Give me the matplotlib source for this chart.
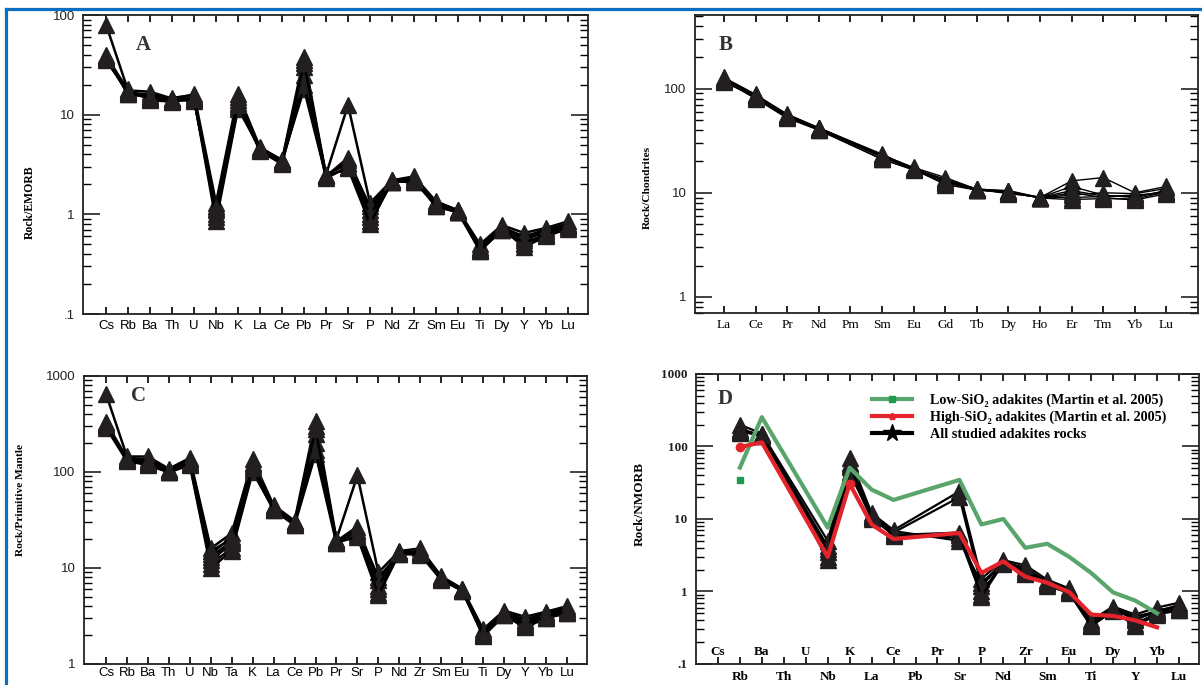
import numpy as np
import matplotlib.pyplot as plt
from matplotlib.lines import Line2D
from matplotlib.ticker import LogLocator, NullFormatter

SERIF = ['Liberation Serif', 'DejaVu Serif']
SANS = ['Liberation Sans', 'DejaVu Sans']
TRI = '#231f20'

# ---- panel A: Rock/EMORB (rows = elements, columns = samples)
a_elements = ['Cs', 'Rb', 'Ba', 'Th', 'U', 'Nb', 'K', 'La', 'Ce', 'Pb', 'Pr',
              'Sr', 'P', 'Nd', 'Zr', 'Sm', 'Eu', 'Ti', 'Dy', 'Y', 'Yb', 'Lu']
a_values = [
    [80, 40, 38, 36, 37, 39, 35],
    [17.5, 17, 16, 16.5, 18, 16, 17],
    [17, 14.5, 15, 16, 14, 15.5, 14.8],
    [14.5, 14, 13.8, 14.2, 13.5, 14.8, 14],
    [16, 14, 15, 13.8, 14.5, 15.5, 14.2],
    [1.3, 1.1, 0.95, 1.2, 0.85, 1.0, 1.15],
    [16, 14, 12, 13, 11.5, 15, 12.5],
    [4.7, 4.4, 4.5, 4.3, 4.6, 4.4, 4.5],
    [3.5, 3.3, 3.4, 3.2, 3.5, 3.3, 3.4],
    [38, 35, 30, 25, 18, 20, 33],
    [2.5, 2.4, 2.5, 2.3, 2.4, 2.5, 2.4],
    [12.5, 3.7, 3.2, 3.0, 3.5, 3.3, 2.9],
    [1.3, 1.1, 0.95, 0.85, 1.2, 1.0, 0.8],
    [2.2, 2.1, 2.15, 2.1, 2.2, 2.1, 2.15],
    [2.4, 2.2, 2.1, 2.3, 2.1, 2.2, 2.2],
    [1.35, 1.25, 1.3, 1.2, 1.3, 1.25, 1.2],
    [1.1, 1.05, 1.08, 1.05, 1.1, 1.06, 1.05],
    [0.5, 0.45, 0.43, 0.47, 0.44, 0.46, 0.43],
    [0.78, 0.72, 0.7, 0.75, 0.72, 0.74, 0.7],
    [0.65, 0.58, 0.5, 0.55, 0.47, 0.6, 0.52],
    [0.73, 0.65, 0.62, 0.68, 0.6, 0.7, 0.63],
    [0.85, 0.78, 0.75, 0.8, 0.72, 0.8, 0.74],
]

# ---- panel B: Rock/Chondrites (Pm not analysed)
b_elements = ['La', 'Ce', 'Pr', 'Nd', 'Pm', 'Sm', 'Eu', 'Gd', 'Tb', 'Dy',
              'Ho', 'Er', 'Tm', 'Yb', 'Lu']
nan = np.nan
b_values = [
    [128, 122, 118, 125, 120, 115, 124],
    [88, 85, 82, 86, 80, 84, 87],
    [56, 54, 53, 55, 52, 54, 57],
    [42, 41, 40, 42, 40, 41, 42],
    [nan] * 7,
    [23, 22, 21, 22.5, 21, 22, 23.5],
    [17.5, 17, 16.5, 17, 16.8, 17.2, 17],
    [14, 13, 12.5, 13.5, 12, 12.8, 13],
    [10.8, 10.7, 10.6, 10.8, 10.6, 10.7, 10.9],
    [10.5, 10, 10.2, 9.8, 10.4, 10, 10.3],
    [9.0, 9.0, 8.9, 9.1, 8.9, 9.0, 9.0],
    [13, 11.5, 10, 9, 8.6, 9.5, 10.5],
    [14, 9.5, 9, 9.2, 8.8, 10, 9.3],
    [10, 9, 8.5, 9.5, 8.7, 9.8, 9.2],
    [11.5, 10.5, 9.8, 10, 10.2, 11, 10.4],
]

# ---- panel C: Rock/Primitive Mantle
c_elements = ['Cs', 'Rb', 'Ba', 'Th', 'U', 'Nb', 'Ta', 'K', 'La', 'Ce', 'Pb',
              'Pr', 'Sr', 'P', 'Nd', 'Zr', 'Sm', 'Eu', 'Ti', 'Dy', 'Y', 'Yb', 'Lu']
c_values = [
    [650, 320, 300, 330, 290, 310, 305],
    [145, 135, 132, 140, 130, 138, 134],
    [145, 125, 120, 135, 118, 130, 128],
    [108, 102, 100, 105, 99, 104, 101],
    [140, 125, 120, 135, 118, 130, 122],
    [16, 13, 11, 14, 10, 12, 15],
    [23, 19, 16, 21, 15, 18, 20],
    [135, 120, 105, 125, 100, 115, 110],
    [45, 42, 40, 44, 41, 43, 40],
    [31, 29, 28, 30, 28, 29, 30],
    [340, 300, 250, 200, 155, 170, 280],
    [20, 19, 18, 19.5, 18, 19, 18.5],
    [92, 27, 23, 22, 25, 24, 21],
    [9, 7.5, 6, 5.5, 8, 6.5, 5.2],
    [15, 14.5, 14, 14.5, 14, 14.8, 14.2],
    [16, 14.5, 14, 15, 13.8, 14.5, 14.2],
    [8.2, 7.8, 7.6, 8, 7.5, 7.8, 7.7],
    [6.1, 5.9, 5.8, 6, 5.8, 5.9, 5.9],
    [2.3, 2.1, 2.0, 2.2, 1.95, 2.1, 2.0],
    [3.6, 3.3, 3.2, 3.4, 3.2, 3.5, 3.3],
    [3.1, 2.8, 2.5, 2.7, 2.4, 2.9, 2.6],
    [3.5, 3.2, 3.0, 3.3, 3.0, 3.4, 3.1],
    [4.0, 3.6, 3.4, 3.7, 3.4, 3.8, 3.5],
]

# ---- panel D: Rock/NMORB
d_elements = ['Cs', 'Rb', 'Ba', 'Th', 'U', 'Nb', 'K', 'La', 'Ce', 'Pb', 'Pr',
              'Sr', 'P', 'Nd', 'Zr', 'Sm', 'Eu', 'Ti', 'Dy', 'Y', 'Yb', 'Lu']
d_studied = [
    [nan] * 6,
    [200, 170, 160, 165, 155, 175],
    [150, 140, 145, 138, 150, 142],
    [nan] * 6,
    [nan] * 6,
    [5.0, 4.2, 3.5, 3.0, 2.7, 3.8],
    [70, 60, 52, 45, 42, 55],
    [12, 11, 10.5, 10, 11.5, 10.8],
    [7.0, 6.5, 6.0, 6.2, 6.8, 5.9],
    [nan] * 6,
    [nan] * 6,
    [24, 20, 6.5, 5.5, 5.0, 6.0],
    [1.5, 1.2, 1.0, 0.9, 1.3, 0.85],
    [2.7, 2.5, 2.4, 2.6, 2.5, 2.45],
    [2.3, 2.0, 1.8, 2.1, 1.9, 1.75],
    [1.45, 1.3, 1.25, 1.35, 1.2, 1.3],
    [1.1, 1.0, 0.97, 1.05, 0.95, 1.0],
    [0.4, 0.36, 0.34, 0.38, 0.33, 0.35],
    [0.62, 0.56, 0.53, 0.6, 0.55, 0.58],
    [0.48, 0.42, 0.36, 0.4, 0.33, 0.45],
    [0.6, 0.52, 0.5, 0.55, 0.48, 0.53],
    [0.7, 0.6, 0.56, 0.62, 0.55, 0.65],
]
d_low_sio2 = [nan, 51, 253, nan, nan, 7.6, 51, 25.4, 18.3, nan, nan, 34.6,
              8.4, 10.0, 4.0, 4.55, 3.0, 1.8, 0.97, 0.75, 0.5, nan]
d_low_sio2_rb_point = 35
d_high_sio2 = [nan, 98, 114, nan, nan, 3.0, 30.6, 8.4, 5.3, nan, nan, 6.4,
               1.8, 2.6, 1.6, 1.32, 0.98, 0.48, 0.46, 0.40, 0.32, nan]

fig = plt.figure(figsize=(12.02, 6.85), dpi=100)


def log_axes(rect, xlim, ylim, yticks, ylabels, tick_font):
    ax = fig.add_axes(rect)
    ax.set_yscale('log')
    ax.set_xlim(*xlim)
    ax.set_ylim(*ylim)
    ax.yaxis.set_minor_locator(LogLocator(base=10, subs=np.arange(2, 10)))
    ax.yaxis.set_minor_formatter(NullFormatter())
    ax.set_yticks(yticks, ylabels)
    for s in ax.spines.values():
        s.set_linewidth(1.3)
        s.set_color('#222222')
    ax.tick_params(axis='y', which='major', direction='in', length=12, width=1.2,
                   left=True, right=True, pad=6, colors='#222222')
    ax.tick_params(axis='y', which='minor', direction='in', length=6, width=1.0,
                   left=True, right=True)
    ax.tick_params(axis='x', which='major', direction='in', length=5, width=1.2,
                   top=True, bottom=True, pad=4)
    for lab in ax.get_yticklabels():
        lab.update(tick_font)
    return ax


def draw_samples(ax, values, lw):
    arr = np.array(values, dtype=float)
    x = np.arange(arr.shape[0])
    for s in arr.T:
        ok = ~np.isnan(s)
        ax.plot(x[ok], s[ok], color='black', lw=lw, marker='^', ms=11,
                mfc=TRI, mec=TRI, zorder=2)


sans9 = dict(family=SANS, size=9.5)
serif_b = dict(family=SERIF, size=9.5, weight='bold')

# A
axA = log_axes([0.0691, 0.5416, 0.4201, 0.4365], (-1.045, 21.91), (0.1, 100),
               [0.1, 1, 10, 100], ['.1', '1', '10', '100'], sans9)
draw_samples(axA, a_values, 1.8)
axA.set_xticks(range(len(a_elements)), a_elements, **sans9)
axA.text(0.119, 0.90, 'A', transform=axA.transAxes, ha='center', va='center',
         family=SERIF, weight='bold', size=15, color='#333333')
axA.text(-0.105, 0.375, 'Rock/EMORB', transform=axA.transAxes, rotation=90,
         ha='center', va='center', family=SERIF, weight='bold', size=8.5)

# B
axB = log_axes([0.5782, 0.5431, 0.4185, 0.4350], (-0.92, 15.0), (0.7, 510),
               [1, 10, 100], ['1', '10', '100'], sans9)
draw_samples(axB, b_values, 1.0)
axB.set_xticks(range(len(b_elements)), b_elements, family=SERIF, size=9.5)
axB.text(0.06, 0.90, 'B', transform=axB.transAxes, ha='center', va='center',
         family=SERIF, weight='bold', size=15, color='#333333')
axB.text(-0.095, 0.42, 'Rock/Chondrites', transform=axB.transAxes, rotation=90,
         ha='center', va='center', family=SERIF, weight='bold', size=8.2)

# C
axC = log_axes([0.0699, 0.0307, 0.4185, 0.4204], (-1.05, 22.96), (1, 1000),
               [1, 10, 100, 1000], ['1', '10', '100', '1000'], sans9)
draw_samples(axC, c_values, 1.8)
axC.set_xticks(range(len(c_elements)), c_elements, **sans9)
axC.tick_params(axis='x', pad=2)
axC.text(0.109, 0.93, 'C', transform=axC.transAxes, ha='center', va='center',
         family=SERIF, weight='bold', size=15, color='#333333')
axC.text(-0.127, 0.571, 'Rock/Primitive Mantle', transform=axC.transAxes,
         rotation=90, ha='center', va='center', family=SERIF, weight='bold', size=8.2)

# D
axD = log_axes([0.5790, 0.0307, 0.4185, 0.4234], (-1.0, 21.91), (0.1, 1000),
               [0.1, 1, 10, 100, 1000], ['.1', '1', '10', '100', '1000'], serif_b)
draw_samples(axD, d_studied, 1.6)
xd = np.arange(len(d_elements))
low = np.array(d_low_sio2, dtype=float)
high = np.array(d_high_sio2, dtype=float)
okl = ~np.isnan(low)
okh = ~np.isnan(high)
axD.plot(xd[okl], low[okl], color='#5aa56c', lw=3.0, zorder=4)
axD.plot([d_elements.index('Rb')], [d_low_sio2_rb_point], ls='none', marker='s',
         ms=5, color='#1f9a4e', zorder=4)
hx, hy = xd[okh], high[okh]
axD.plot(hx, hy, color='#e5232b', lw=3.0, zorder=5)
mark = [list(hx).index(d_elements.index('Rb')), list(hx).index(d_elements.index('K'))]
axD.plot(hx[mark], hy[mark], ls='none', marker='o', ms=6, color='#e5232b', zorder=5)
axD.set_xticks(xd, [''] * len(d_elements))
for i, name in enumerate(d_elements):
    y = 0.04 if i % 2 == 0 else -0.045
    axD.text(i, y, name, transform=axD.get_xaxis_transform(), ha='center',
             va='center', clip_on=False, **serif_b)
axD.text(0.058, 0.912, 'D', transform=axD.transAxes, ha='center', va='center',
         family=SERIF, weight='bold', size=15, color='#333333')
axD.text(-0.111, 0.552, 'Rock/NMORB', transform=axD.transAxes, rotation=90,
         ha='center', va='center', family=SERIF, weight='bold', size=9.5)
handles = [
    Line2D([], [], color='#5aa56c', lw=3.0, marker='s', ms=4, mfc='#1f9a4e', mec='#1f9a4e'),
    Line2D([], [], color='#e5232b', lw=3.0, marker='p', ms=5),
    Line2D([], [], color='black', lw=3.0, marker='*', ms=13),
]
labels = ['Low-SiO\u2082 adakites (Martin et al. 2005)',
          'High-SiO\u2082 adakites (Martin et al. 2005)',
          'All studied adakites rocks']
axD.legend(handles, labels, loc='upper left', bbox_to_anchor=(0.325, 0.975),
           frameon=False, handlelength=2.8, handletextpad=1.3, labelspacing=0.25,
           prop=dict(family=SERIF, weight='bold', size=10.2))

# blue frame of the page
fig.add_artist(Line2D([0.005, 1.0], [1 - 9 / 685, 1 - 9 / 685], color='#0b6fc1', lw=2.3))
fig.add_artist(Line2D([6 / 1202, 6 / 1202], [0, 1 - 9 / 685], color='#0b6fc1', lw=2.3))

fig.savefig('out.png', dpi=100)
